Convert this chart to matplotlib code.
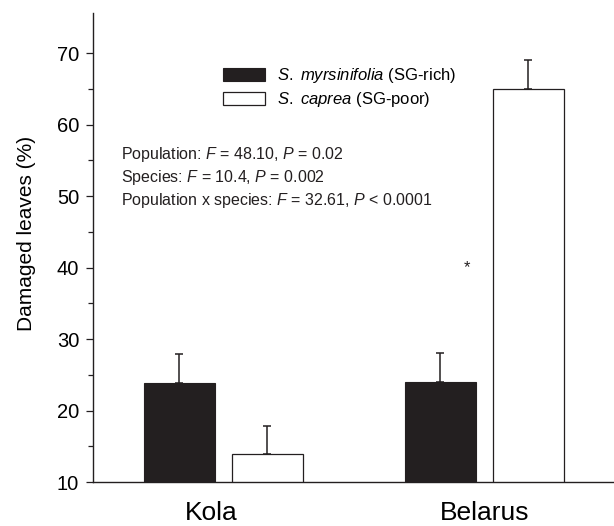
import matplotlib

matplotlib.use("Agg")
import matplotlib.pyplot as plt
import matplotlib.transforms as mtransforms
import numpy as np
from matplotlib.patches import Patch

plt.rcParams["font.family"] = ["Liberation Sans", "DejaVu Sans"]
plt.rcParams["mathtext.fontset"] = "custom"
plt.rcParams["mathtext.rm"] = "Liberation Sans"
plt.rcParams["mathtext.it"] = "Liberation Sans:italic"

# data
groups = ["Kola", "Belarus"]
rich_mean = [23.85, 24.0]  # S. myrsinifolia
rich_se = [4.05, 4.0]
poor_mean = [13.9, 64.9]  # S. caprea
poor_se = [4.0, 4.1]
stats_lines = [
    "Population: $F$ = 48.10, $P$ = 0.02",
    "Species: $F$ = 10.4, $P$ = 0.002",
    "Population x species: $F$ = 32.61, $P$ < 0.0001",
]

BLACK = "#231f20"

fig = plt.figure(figsize=(6.14, 5.26), dpi=100)
ax = fig.add_axes([93 / 614, 44 / 526, 521 / 614, 469 / 526])

centers = np.array([0.0, 3.676])
off, w = 0.617, 1.0
err_kw = dict(ecolor=BLACK, elinewidth=1.1, capsize=3, capthick=1.1)

ax.bar(centers - off, rich_mean, w, color=BLACK, edgecolor=BLACK,
       linewidth=0.8, zorder=2)
ax.errorbar(centers - off, rich_mean, yerr=[np.zeros(2), rich_se], fmt="none",
            zorder=1, **err_kw)
ax.bar(centers + off, poor_mean, w, color="white", edgecolor=BLACK,
       linewidth=0.9, zorder=2)
ax.errorbar(centers + off, poor_mean, yerr=[np.zeros(2), poor_se], fmt="none",
            zorder=1, **err_kw)

ax.set_xlim(-1.835, 5.504)
ax.set_ylim(10, 75.6)
ax.set_yticks(np.arange(10, 71, 10))
ax.set_yticks(np.arange(15, 70, 10), minor=True)
ax.set_xticks(centers)
ax.set_xticklabels(groups, fontsize=19)
ax.tick_params(axis="x", length=0, pad=14)
ax.tick_params(axis="y", which="major", length=5, width=0.9, pad=5,
               labelsize=14.5, color=BLACK)
ax.tick_params(axis="y", which="minor", length=3.6, width=0.9, color=BLACK)
# Kola label sits a little left of its group centre
lbl = ax.get_xticklabels()[0]
lbl.set_transform(lbl.get_transform() +
                  mtransforms.ScaledTranslation(-12 / 100, 0, fig.dpi_scale_trans))

for s in ["top", "right"]:
    ax.spines[s].set_visible(False)
for s in ["left", "bottom"]:
    ax.spines[s].set_linewidth(1.0)
    ax.spines[s].set_color(BLACK)

ax.set_ylabel("Damaged leaves (%)", fontsize=15)
ax.yaxis.set_label_coords(-0.11, 0.53)

handles = [
    Patch(facecolor=BLACK, edgecolor=BLACK, linewidth=0.8),
    Patch(facecolor="white", edgecolor=BLACK, linewidth=0.9),
]
labels = [r"$\it{S.\ myrsinifolia}$ (SG-rich)", r"$\it{S.\ caprea}$ (SG-poor)"]
ax.legend(handles, labels, loc="upper left", bbox_to_anchor=(0.2495, 0.887),
          frameon=False, fontsize=12, handlelength=2.5, handleheight=0.8,
          handletextpad=0.75, labelspacing=0.3, borderpad=0, borderaxespad=0)

for i, line in enumerate(stats_lines):
    ax.text(0.0537, 0.6975 - i * 0.0490, line, transform=ax.transAxes,
            fontsize=11.5, ha="left", va="center", color=BLACK)

ax.text(3.433, 40.0, "*", fontsize=12, ha="center", va="center", color=BLACK)

fig.savefig("out.png", dpi=100)
